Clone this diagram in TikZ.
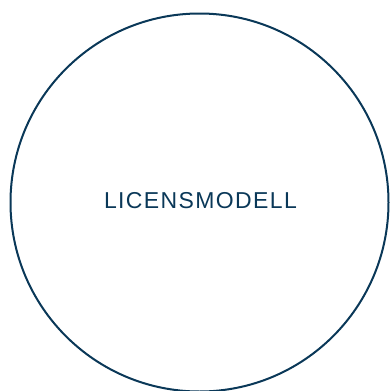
\documentclass[tikz,border=0pt]{standalone}
\usepackage{fontspec}
\setmainfont{Liberation Sans}
\newfontfamily\labelfont[LetterSpace=6]{Liberation Sans}
\definecolor{navy}{RGB}{10,56,88}
\begin{document}
\begin{tikzpicture}[x=1pt,y=-1pt,
  ring/.style={draw=navy,line width=2pt,circle,minimum size=378pt,inner sep=0pt},
  lbl/.style={text=navy,font=\labelfont\fontsize{23}{27}\selectfont}]
\useasboundingbox (0,0) rectangle (390,391);
\node[ring] (c) at (199.5,202.5) {};
\node[lbl] (t) at (200.5,201) {LICENSMODELL};
\end{tikzpicture}
\end{document}
